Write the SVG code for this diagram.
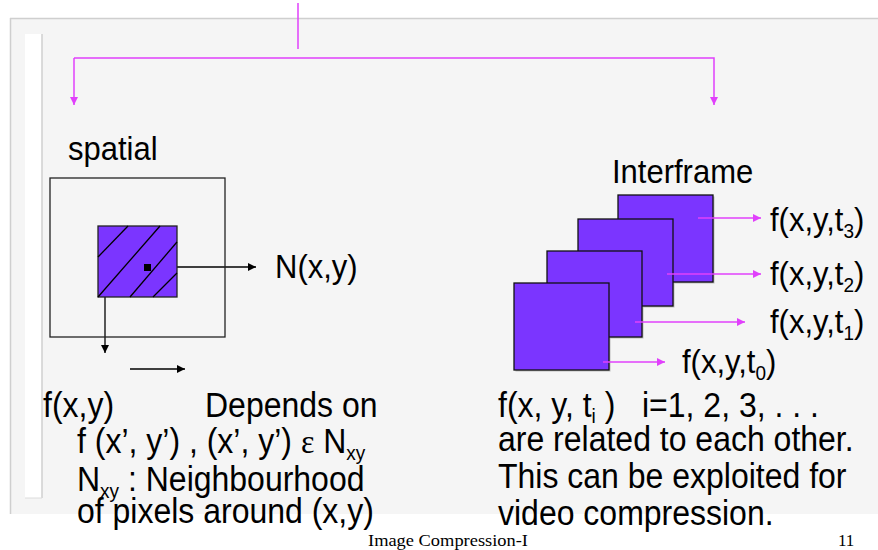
<svg xmlns="http://www.w3.org/2000/svg" width="878" height="550" viewBox="0 0 878 550">
<defs>
<style>
.t{font-family:"Liberation Sans",Arial,sans-serif;font-size:32px;fill:#000}
.l{font-family:"Liberation Sans",Arial,sans-serif;font-size:31px;fill:#000}
.s{font-size:19px}
.ft{font-family:"Liberation Serif","Times New Roman",serif;font-size:17px;fill:#000}
.mg{stroke:#e040fb;stroke-width:1.5;fill:none}
.bk{stroke:#000;stroke-width:1.3;fill:none}
.fr{fill:#7b35ff;stroke:#111;stroke-width:1.3}
</style>
<marker id="am" viewBox="0 0 10 10" refX="10" refY="5" markerWidth="8" markerHeight="8" markerUnits="userSpaceOnUse" orient="auto"><path d="M0,0 L10,5 L0,10 Z" fill="#e040fb"/></marker>
<marker id="ab" viewBox="0 0 10 10" refX="10" refY="5" markerWidth="8" markerHeight="8" markerUnits="userSpaceOnUse" orient="auto"><path d="M0,0 L10,5 L0,10 Z" fill="#000"/></marker>
</defs>
<rect width="878" height="550" fill="#fff"/>
<g id="panel">
<rect x="10" y="18" width="868" height="496" fill="#f5f5f5"/>
<line x1="10.5" y1="18" x2="10.5" y2="514" stroke="#cfcfcf" stroke-width="1.5"/>
<line x1="10" y1="18.5" x2="878" y2="18.5" stroke="#cfcfcf" stroke-width="1.5"/>
<rect x="25" y="34" width="17" height="464" fill="#fff"/>
<line x1="42" y1="34" x2="42" y2="498" stroke="#cfcfcf" stroke-width="1.5"/>
<line x1="25" y1="498" x2="42" y2="498" stroke="#dcdcdc" stroke-width="1"/>
</g>
<g id="connectors">
<line class="mg" x1="298" y1="3" x2="298" y2="49"/>
<polyline class="mg" points="74,58 714,58 714,105" marker-end="url(#am)"/>
<line class="mg" x1="74" y1="58" x2="74" y2="105" marker-end="url(#am)"/>
<line class="bk" x1="151" y1="267" x2="256" y2="267" marker-end="url(#ab)"/>
<line class="bk" x1="105" y1="297" x2="105" y2="353" marker-end="url(#ab)"/>
<line class="bk" x1="130" y1="369" x2="185" y2="369" marker-end="url(#ab)"/>
</g>
<g id="spatial">
<text class="l" transform="translate(68,160) scale(1,1.07)">spatial</text>
<rect x="50" y="178" width="175" height="159" fill="none" stroke="#222" stroke-width="1.3"/>
<rect x="98" y="226" width="79" height="71" fill="#7b35ff" stroke="#222" stroke-width="1.3"/>
<g stroke="#000" stroke-width="1.3">
<line x1="98" y1="257" x2="128" y2="226"/>
<line x1="98" y1="297" x2="160" y2="226"/>
<line x1="130" y1="297" x2="177" y2="242"/>
<line x1="153" y1="297" x2="177" y2="273"/>
</g>
<rect x="144" y="264" width="7" height="7" fill="#000"/>
<text class="l" transform="translate(275,278) scale(1,1.07)">N(x,y)</text>
</g>
<g id="interframe">
<text class="l" transform="translate(612,183) scale(1,1.07)">Interframe</text>
<g transform="translate(1.5,1.5)" fill="#999" opacity="0.6">
<rect x="618" y="195" width="95" height="87"/>
<rect x="578" y="219" width="95" height="87"/>
<rect x="547" y="251" width="95" height="86"/>
<rect x="514" y="283" width="95" height="87"/>
</g>
<rect class="fr" x="618" y="195" width="95" height="87"/>
<rect class="fr" x="578" y="219" width="95" height="87"/>
<rect class="fr" x="547" y="251" width="95" height="86"/>
<rect class="fr" x="514" y="283" width="95" height="87"/>
<line class="mg" x1="698" y1="218" x2="761" y2="218" marker-end="url(#am)"/>
<line class="mg" x1="667" y1="274" x2="761" y2="274" marker-end="url(#am)"/>
<line class="mg" x1="635" y1="322" x2="745" y2="322" marker-end="url(#am)"/>
<line class="mg" x1="603" y1="362" x2="665" y2="362" marker-end="url(#am)"/>
<text class="l" transform="translate(770,231) scale(1,1.07)">f(x,y,t<tspan class="s" dy="7">3</tspan><tspan dy="-7">)</tspan></text>
<text class="l" transform="translate(770,285) scale(1,1.07)">f(x,y,t<tspan class="s" dy="7">2</tspan><tspan dy="-7">)</tspan></text>
<text class="l" transform="translate(770,333) scale(1,1.07)">f(x,y,t<tspan class="s" dy="7">1</tspan><tspan dy="-7">)</tspan></text>
<text class="l" transform="translate(682,373) scale(1,1.07)">f(x,y,t<tspan class="s" dy="7">0</tspan><tspan dy="-7">)</tspan></text>
</g>
<g id="text-left">
<text class="t" transform="translate(43,417) scale(1,1.07)">f(x,y)</text>
<text class="t" transform="translate(205,417) scale(1,1.07)">Depends on</text>
<text class="t" transform="translate(77,453) scale(1,1.07)">f (x’, y’) , (x’, y’) <tspan font-family="Liberation Serif,serif">ε</tspan> N<tspan class="s" dy="7">xy</tspan></text>
<text class="t" transform="translate(77,491) scale(1,1.07)">N<tspan class="s" dy="7">xy</tspan><tspan dy="-7"> : Neighbourhood</tspan></text>
<text class="t" transform="translate(77,523) scale(1,1.07)">of pixels around (x,y)</text>
</g>
<g id="text-right">
<text class="t" transform="translate(498,417) scale(1,1.07)" xml:space="preserve">f(x, y, t<tspan class="s" dy="6">i</tspan><tspan dy="-6"> )   i=1, 2, 3, . . .</tspan></text>
<text class="t" transform="translate(498,451) scale(1,1.07)">are related to each other.</text>
<text class="t" transform="translate(498,488) scale(1,1.07)">This can be exploited for</text>
<text class="t" transform="translate(498,525) scale(1,1.07)">video compression.</text>
</g>
<g id="footer">
<text class="ft" x="368" y="546" textLength="160" lengthAdjust="spacingAndGlyphs">Image Compression-I</text>
<text class="ft" x="838" y="546">11</text>
</g>
</svg>
